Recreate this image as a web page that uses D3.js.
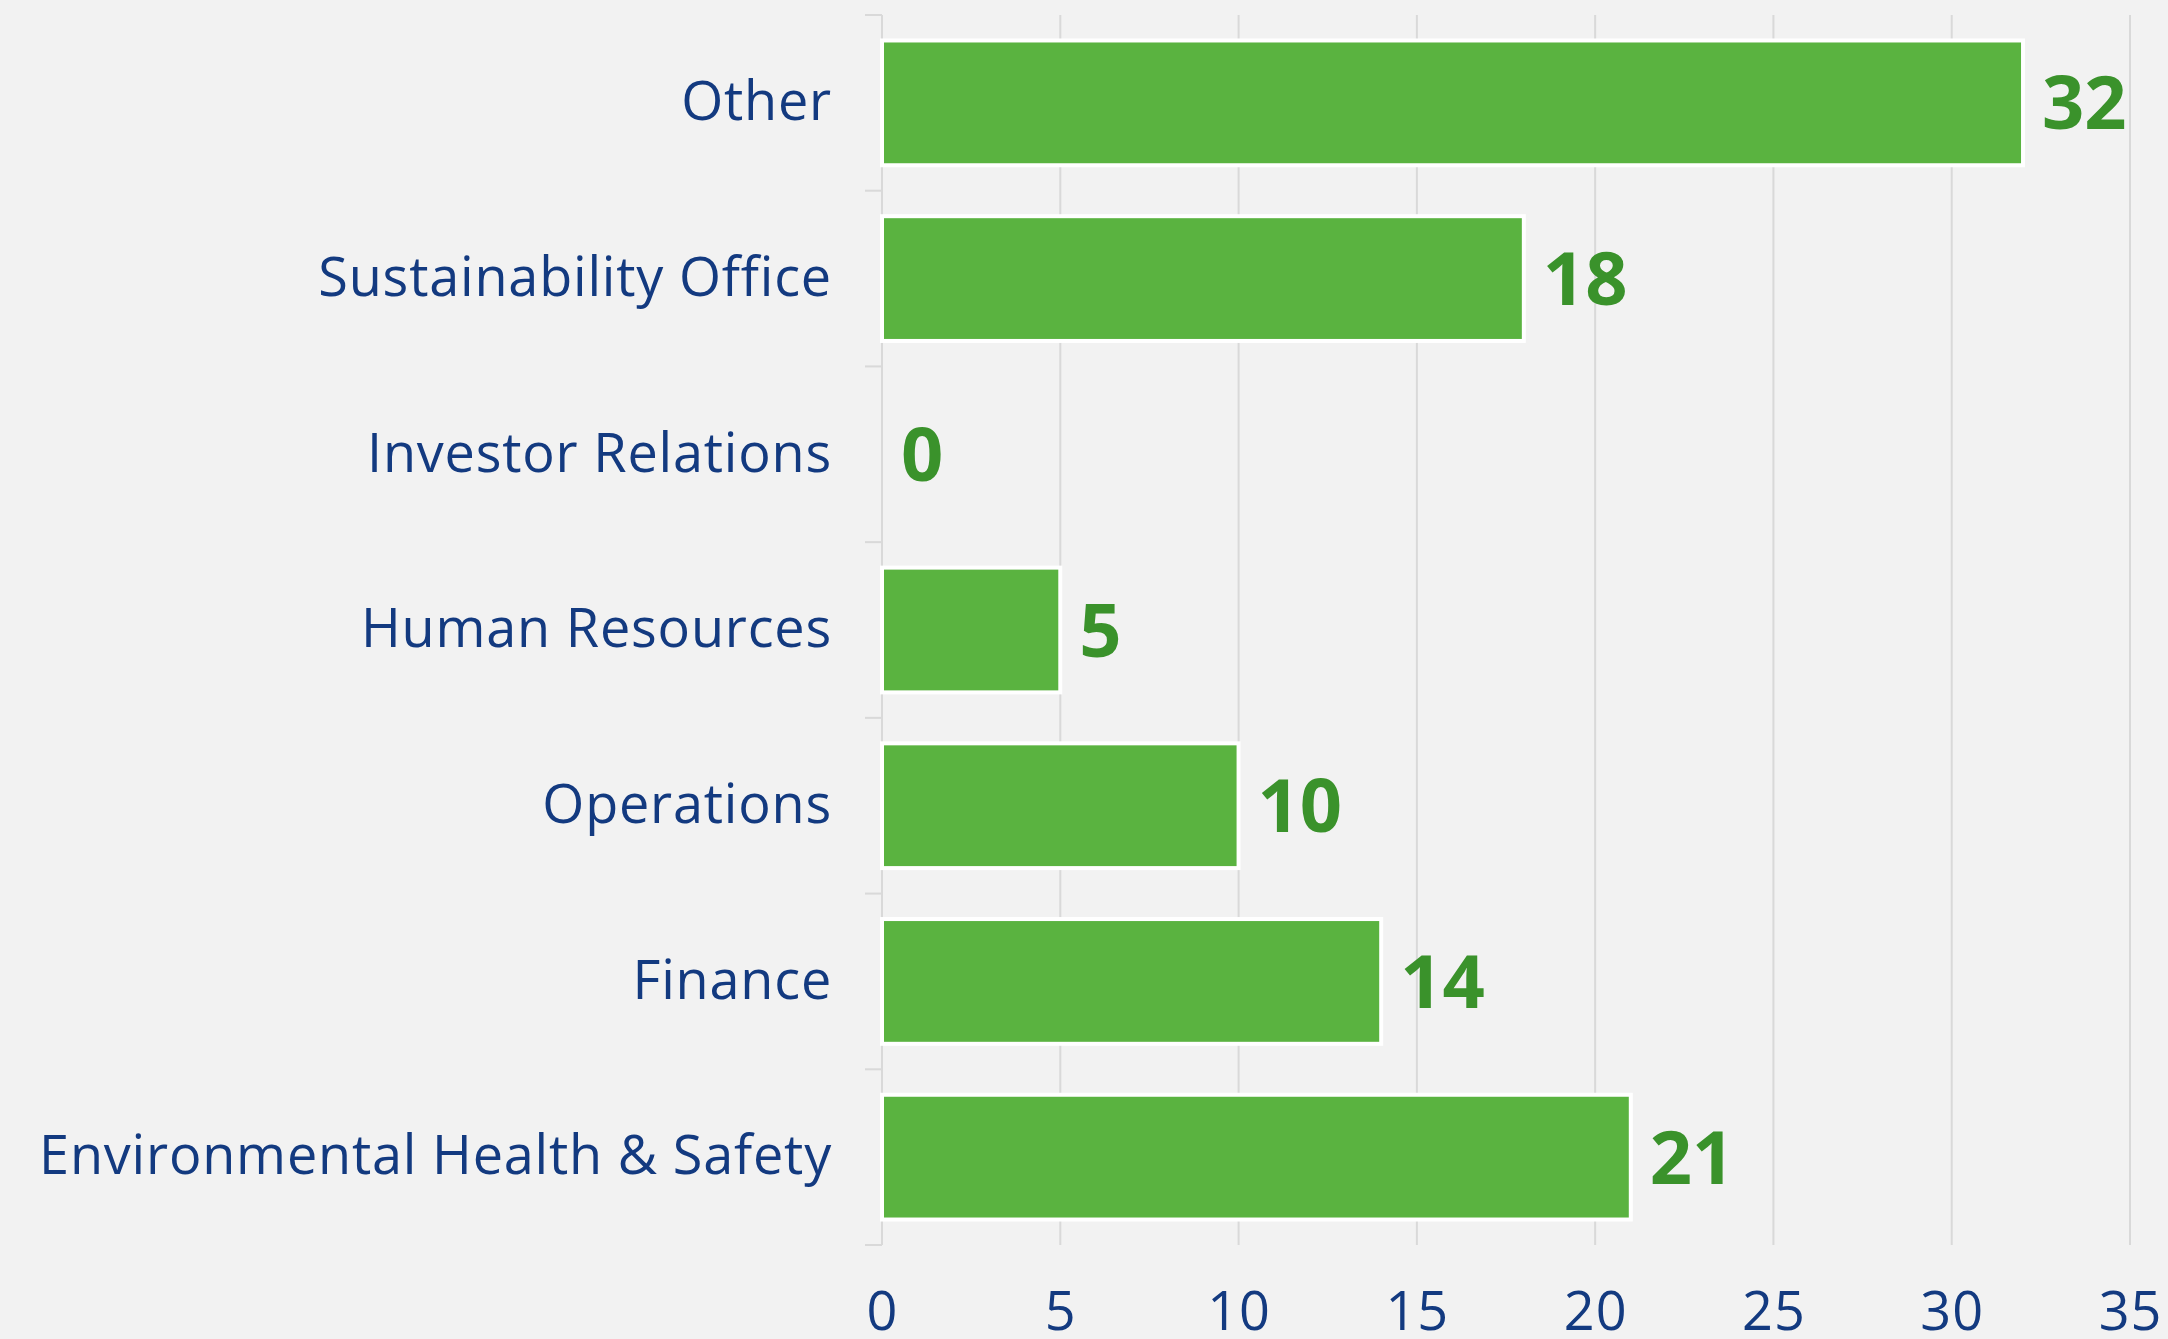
<!DOCTYPE html>
<html>
<head>
<meta charset="utf-8">
<script src="https://cdn.jsdelivr.net/npm/d3@7"></script>
<style>
  body { margin: 0; background: #f2f2f2; }
  svg { display: block; }
</style>
</head>
<body>
<div id="chart"></div>
<script>
// chart data
var departments = ["Other", "Sustainability Office", "Investor Relations", "Human Resources",
                   "Operations", "Finance", "Environmental Health & Safety"];
var counts = [32, 18, 0, 5, 10, 14, 21];
var xTicks = [0, 5, 10, 15, 20, 25, 30, 35];

var width = 2168, height = 1339;
var margin = {top: 15, right: 38, bottom: 94, left: 882};
var innerW = width - margin.left - margin.right,
    innerH = height - margin.top - margin.bottom;

var svg = d3.select("#chart")
  .append("svg")
    .attr("width", width)
    .attr("height", height);

svg.append("rect")
  .attr("width", width)
  .attr("height", height)
  .attr("fill", "#f2f2f2");

var chart = svg.append("g")
  .attr("transform", "translate(" + margin.left + "," + margin.top + ")");

var x = d3.scaleLinear()
  .domain([0, 35])
  .range([0, 1248]);

var y = d3.scaleBand()
  .domain(departments)
  .range([0, innerH])
  .paddingInner(0.29)
  .paddingOuter(0.145);

// vertical gridlines
chart.selectAll(".grid")
  .data(xTicks.slice(1))
  .enter().append("line")
    .attr("class", "grid")
    .attr("x1", function(d) { return x(d); })
    .attr("x2", function(d) { return x(d); })
    .attr("y1", 0)
    .attr("y2", innerH)
    .attr("stroke", "#d9d9d9")
    .attr("stroke-width", 2);

// x axis labels only
var xAxis = d3.axisBottom(x).tickValues(xTicks).tickSize(0).tickPadding(47);
var gx = chart.append("g")
  .attr("transform", "translate(0," + innerH + ")")
  .call(xAxis);
gx.select(".domain").remove();
gx.selectAll("text")
  .attr("fill", "#133a80")
  .style("font", "54px 'Open Sans', sans-serif")
  .style("letter-spacing", "1px");

// y axis with category separators
var yAxis = d3.axisLeft(y).tickSize(0).tickPadding(50);
var gy = chart.append("g").call(yAxis);
gy.select(".domain").attr("stroke", "#d9d9d9").attr("stroke-width", 2)
  .attr("d", "M0,0V" + innerH);
gy.selectAll("text")
  .attr("fill", "#133a80")
  .style("font", "54px 'Open Sans', sans-serif")
  .style("letter-spacing", "0.8px");

var step = y.step();
chart.selectAll(".sep")
  .data(d3.range(departments.length + 1))
  .enter().append("line")
    .attr("class", "sep")
    .attr("x1", -17)
    .attr("x2", 0)
    .attr("y1", function(i) { return i * step; })
    .attr("y2", function(i) { return i * step; })
    .attr("stroke", "#d9d9d9")
    .attr("stroke-width", 2);

// bars
chart.selectAll(".bar")
  .data(counts)
  .enter().append("rect")
    .attr("class", "bar")
    .attr("x", 0)
    .attr("y", function(d, i) { return y(departments[i]); })
    .attr("width", function(d) { return x(d); })
    .attr("height", y.bandwidth())
    .attr("fill", "#5ab340")
    .attr("stroke", function(d) { return d > 0 ? "#ffffff" : "none"; })
    .attr("stroke-width", 4);

// value labels
chart.selectAll(".value")
  .data(counts)
  .enter().append("text")
    .attr("class", "value")
    .attr("x", function(d) { return x(d) + 19; })
    .attr("y", function(d, i) { return y(departments[i]) + y.bandwidth() / 2; })
    .attr("dy", "0.36em")
    .attr("fill", "#3a922b")
    .style("font", "bold 74px 'Open Sans', sans-serif")
    .text(function(d) { return d; });
</script>
</body>
</html>
